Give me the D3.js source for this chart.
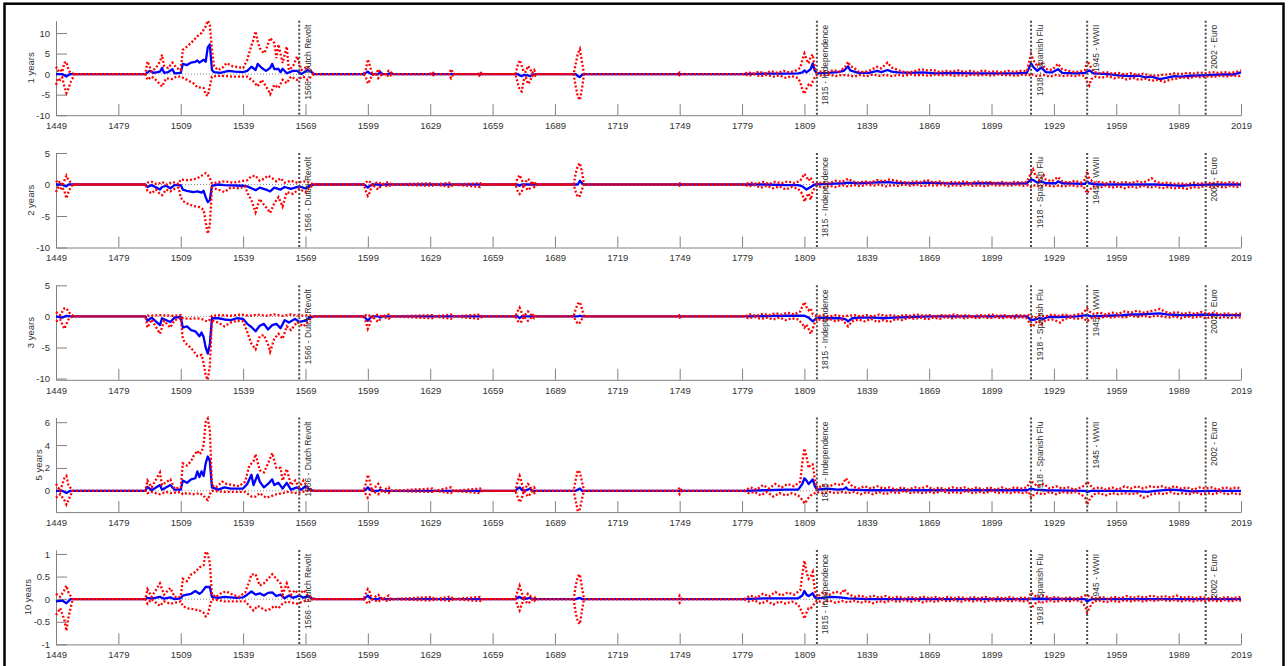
<!DOCTYPE html>
<html>
<head>
<meta charset="utf-8">
<script src="https://cdn.jsdelivr.net/npm/d3@7"></script>
<style>
body { margin: 0; background: #fff; }
svg { display: block; font-family: "Liberation Sans", Arial, Helvetica, sans-serif; }
.axis path, .axis line { stroke: #808080; stroke-width: 1; }
.axis text { fill: #333; font-size: 9.5px; }
</style>
</head>
<body>
<script>
// ---- data ----
var xTicks = [1449, 1479, 1509, 1539, 1569, 1599, 1629, 1659, 1689, 1719, 1749, 1779, 1809, 1839, 1869, 1899, 1929, 1959, 1989, 2019];
var panelLabels = ["1 years", "2 years", "3 years", "5 years", "10 years"];
var yTicks = [[-10, -5, 0, 5, 10], [-10, -5, 0, 5], [-10, -5, 0, 5], [0, 2, 4, 6], [-1, -0.5, 0, 0.5, 1]];
var yLimits = [[-10, 13], [-10, 5], [-10.2, 5], [-1.86, 6.4], [-1, 1.09]];
var eventYears = [1566, 1815, 1918, 1945, 2002];
var eventNames = ["1566 - Dutch Revolt", "1815 - Independence", "1918 - Spanish Flu", "1945 - WWII", "2002 - Euro"];

// 1 year horizon: median (blue) and bands (red dotted)
var mid1 = [[1449,0],[1452,0],[1453,-0.3],[1454,-0.6],[1455,-0.2],[1456,0],[1492,0],[1494,0.8],[1496,0.3],[1499,0.6],[1500,1.5],[1501,0.3],[1503,0.5],[1505,1.2],[1506,0.2],[1509,0.3],[1510,2.5],[1512,2.2],[1514,2.8],[1516,3.0],[1517,3.3],[1518,2.8],[1520,3.5],[1521,3.0],[1522,6.5],[1523,7.2],[1524,1.0],[1525,0.5],[1528,0.3],[1532,0.8],[1535,0.6],[1539,0.5],[1541,0.8],[1543,1.8],[1545,1.0],[1546,2.5],[1548,1.5],[1550,0.8],[1552,1.5],[1553,2.5],[1554,1.2],[1556,1.3],[1557,0.5],[1558,1.3],[1560,0.2],[1563,0.8],[1565,0.8],[1567,0],[1570,1.0],[1572,0.5],[1573,0],
  [1597,0],[1598,0.3],[1599,0.6],[1600,0.2],[1601,0],[1604,0],[1605,0.5],[1606,0],[1609,0],[1610,0.3],[1611,0],[1671,0],[1672,-0.3],[1673,-0.5],[1674,-0.2],[1676,-0.3],[1677,-0.5],[1678,-0.2],[1680,0],[1699,0],[1700,-0.5],[1701,-0.7],[1702,-0.2],[1703,0],
  [1780,0],[1790,0.1],[1800,0.1],[1806,0.2],[1808,0.4],[1809,0.9],[1810,0.4],[1812,1.2],[1813,2.6],[1814,0.8],[1815,0.2],[1820,0.3],[1825,0.5],[1828,0.8],[1830,1.9],[1831,0.9],[1833,0.6],[1835,0.3],[1840,0.3],[1844,0.8],[1846,0.5],[1849,1.0],[1851,0.6],[1854,0.4],[1860,0.3],[1866,0.4],[1872,0.2],[1880,0.3],[1890,0.2],[1900,0.2],[1910,0.2],[1916,0.3],[1918,2.6],[1919,1.8],[1921,0.8],[1923,1.6],[1925,0.5],[1928,0.4],[1931,1.2],[1933,0.3],[1940,0.2],[1944,0.3],[1946,0.9],[1948,0.2],[1955,0],[1960,-0.3],[1965,-0.5],[1970,-0.4],[1973,-0.8],[1976,-0.6],[1980,-1.2],[1983,-0.9],[1987,-0.5],[1990,-0.6],[1995,-0.4],[2000,-0.3],[2005,-0.2],[2010,-0.1],[2015,-0.1],[2019,0.4]];
var hi1 = [[1449,1.8],[1450,0.8],[1451,1.2],[1452,0.5],[1453,2.7],[1454,3.0],[1455,1.0],[1456,0.3],[1458,0],[1492,0],[1493,3.1],[1495,0.6],[1497,1.5],[1499,3.0],[1500,4.7],[1501,1.9],[1503,1.5],[1505,2.8],[1507,1.5],[1509,1.0],[1510,5.9],[1512,6.7],[1514,7.6],[1517,9.2],[1519,10.0],[1521,11.6],[1522,13.0],[1523,12.0],[1524,6.0],[1525,1.9],[1527,1.0],[1529,1.5],[1531,2.7],[1534,1.9],[1539,1.5],[1541,3.5],[1543,7.0],[1544,8.4],[1545,10.4],[1546,8.0],[1547,6.3],[1549,5.1],[1550,5.9],[1552,8.8],[1554,7.6],[1555,3.9],[1556,7.2],[1558,2.7],[1560,6.7],[1561,1.0],[1563,1.9],[1565,4.3],[1567,1.0],[1570,1.9],[1572,0.6],[1573,0],
  [1597,0],[1598,1.0],[1599,3.6],[1600,2.0],[1601,0.3],[1603,0],[1604,1.2],[1605,0.4],[1606,0],[1608,0],[1609,0.8],[1610,0.5],[1611,0],[1629,0],[1630,0.6],[1631,0],[1638,0],[1639,1.2],[1640,0.2],[1641,0],[1652,0],[1653,0.6],[1654,0],[1670,0],[1671,2.0],[1672,3.4],[1673,2.0],[1674,0.5],[1675,0.6],[1676,2.0],[1677,1.4],[1678,0.2],[1679,1.0],[1680,0],[1698,0],[1699,2.5],[1700,5.0],[1701,6.1],[1702,3.0],[1703,0],[1748,0],[1749,0.4],[1750,0],
  [1780,0],[1782,0.5],[1784,0.1],[1787,0.6],[1790,0.2],[1793,0.7],[1796,0.3],[1799,0.8],[1802,0.4],[1805,0.9],[1807,1.5],[1808,3.5],[1809,5.0],[1810,3.6],[1811,2.6],[1812,4.2],[1813,4.8],[1814,1.5],[1815,0.3],[1818,0.8],[1820,0.4],[1823,1.0],[1826,0.6],[1829,2.0],[1830,3.0],[1831,2.0],[1833,1.5],[1835,0.6],[1838,0.5],[1841,1.0],[1844,1.8],[1846,1.4],[1849,2.8],[1851,1.6],[1853,1.2],[1856,0.6],[1859,0.4],[1862,0.7],[1865,1.2],[1868,0.9],[1871,1.0],[1874,0.5],[1877,0.8],[1880,0.6],[1883,0.9],[1886,0.5],[1889,0.8],[1892,0.4],[1895,0.9],[1898,0.5],[1901,0.7],[1904,0.4],[1907,0.8],[1910,0.5],[1913,0.8],[1916,0.7],[1918,4.9],[1919,3.5],[1921,2.0],[1923,2.8],[1925,1.2],[1928,1.0],[1931,2.5],[1933,1.2],[1936,0.8],[1939,0.5],[1942,0.7],[1944,1.0],[1945,3.2],[1946,2.4],[1948,0.6],[1951,0.2],[1954,0.5],[1957,0.1],[1960,0.3],[1963,-0.1],[1966,0.2],[1969,-0.2],[1972,0.1],[1975,-0.3],[1978,-0.4],[1981,-0.2],[1984,-0.1],[1987,0.2],[1990,0],[1993,0.3],[1996,0.1],[1999,0.4],[2002,0.2],[2005,0.5],[2008,0.3],[2011,0.5],[2014,0.3],[2017,0.6],[2019,0.9]];
var lo1 = [[1449,-2.6],[1450,-1.0],[1451,-1.4],[1452,-0.8],[1453,-3.0],[1454,-4.6],[1455,-3.5],[1456,-2.0],[1458,0],[1492,0],[1493,-1.4],[1495,-0.6],[1497,-1.4],[1500,-3.0],[1502,-1.0],[1505,-1.2],[1507,-0.6],[1509,-0.6],[1512,-1.4],[1515,-2.2],[1517,-3.2],[1520,-3.4],[1521,-5.0],[1522,-5.3],[1523,-3.0],[1524,-0.6],[1528,-0.4],[1534,-0.6],[1541,-0.6],[1544,-1.8],[1546,-3.0],[1548,-1.4],[1551,-3.8],[1552,-4.9],[1554,-2.6],[1556,-3.4],[1558,-1.4],[1560,-2.2],[1562,-0.6],[1565,-1.4],[1568,-0.6],[1570,-1.4],[1573,0],
  [1597,0],[1598,-0.6],[1599,-2.3],[1600,-1.5],[1601,-0.2],[1603,0],[1604,-1.0],[1605,-0.4],[1606,0],[1608,0],[1609,-0.7],[1610,-0.3],[1611,0],[1629,0],[1630,-0.5],[1631,0],[1638,0],[1639,-1.0],[1640,-0.2],[1641,0],[1652,0],[1653,-0.6],[1654,0],[1670,0],[1671,-2.0],[1672,-3.8],[1673,-4.2],[1674,-1.5],[1675,-0.8],[1676,-2.4],[1677,-1.8],[1678,-0.4],[1679,-0.8],[1680,0],[1698,0],[1699,-3.0],[1700,-5.5],[1701,-6.3],[1702,-3.5],[1703,0],[1748,0],[1749,-0.3],[1750,0],
  [1780,0],[1782,-0.4],[1785,-0.1],[1788,-0.5],[1791,-0.2],[1794,-0.6],[1797,-0.3],[1800,-0.9],[1803,-0.5],[1806,-1.0],[1807,-2.0],[1808,-3.8],[1809,-4.8],[1810,-3.5],[1811,-2.6],[1812,-3.0],[1813,-1.8],[1814,-0.8],[1815,-0.2],[1818,-0.4],[1821,-0.1],[1824,-0.5],[1827,-0.2],[1830,-0.3],[1833,-0.6],[1836,-0.2],[1839,-0.5],[1842,-0.1],[1845,-0.4],[1848,-0.2],[1851,-0.5],[1854,-0.2],[1857,-0.4],[1860,-0.1],[1863,-0.3],[1866,-0.2],[1869,-0.4],[1872,-0.1],[1875,-0.3],[1878,-0.1],[1881,-0.4],[1884,-0.2],[1887,-0.4],[1890,-0.1],[1893,-0.3],[1896,-0.2],[1899,-0.4],[1902,-0.1],[1905,-0.3],[1908,-0.2],[1911,-0.4],[1914,-0.1],[1917,-0.3],[1918,0.2],[1919,-0.2],[1921,-0.5],[1924,-0.2],[1927,-0.6],[1930,-0.2],[1933,-0.5],[1936,-0.3],[1939,-0.5],[1942,-0.2],[1944,-0.5],[1945,-2.0],[1946,-2.8],[1947,-1.2],[1949,-0.6],[1952,-0.9],[1955,-0.5],[1958,-1.0],[1961,-0.7],[1964,-1.3],[1967,-0.9],[1970,-1.4],[1973,-1.1],[1976,-1.6],[1979,-1.4],[1982,-1.9],[1985,-1.3],[1988,-1.1],[1991,-0.8],[1994,-1.0],[1997,-0.6],[2000,-0.8],[2003,-0.5],[2006,-0.7],[2009,-0.4],[2012,-0.6],[2015,-0.3],[2018,-0.5],[2019,-0.2]];

// 2 year horizon
var mid2 = [[1449,0],[1452,0],[1453,-0.2],[1454,-0.3],[1455,0],[1492,0],[1493,-0.4],[1495,-0.1],[1499,-0.8],[1500,-0.4],[1502,-0.2],[1504,-0.6],[1506,-0.1],[1509,-0.1],[1510,-0.8],[1512,-1.0],[1515,-1.2],[1517,-1.1],[1519,-1.3],[1520,-1.0],[1521,-2.0],[1522,-2.8],[1523,-2.5],[1524,-0.2],[1527,0],[1530,-0.1],[1539,-0.2],[1541,-0.3],[1543,-0.6],[1545,-0.9],[1547,-0.5],[1550,-0.8],[1552,-1.1],[1554,-0.5],[1557,-0.8],[1559,-0.4],[1562,-0.7],[1566,-0.3],[1569,-0.6],[1571,-0.2],[1573,0],
  [1597,0],[1598,-0.2],[1599,-0.5],[1600,-0.2],[1601,0],[1604,0],[1605,-0.2],[1606,0],[1671,0],[1672,-0.2],[1673,0],[1700,0],[1701,0.6],[1702,0.2],[1703,0],
  [1780,0],[1790,0],[1800,-0.1],[1806,-0.1],[1808,-0.3],[1810,-0.8],[1812,-0.4],[1814,0],[1820,0.1],[1828,0.2],[1830,0.3],[1835,0.2],[1842,0.3],[1848,0.4],[1852,0.3],[1860,0.2],[1868,0.3],[1880,0.15],[1895,0.2],[1910,0.15],[1916,0.2],[1918,0.8],[1919,0.7],[1921,0.3],[1923,0.5],[1925,0.2],[1930,0.2],[1931,0.5],[1933,0.2],[1944,0.1],[1945,0.5],[1946,0.2],[1950,0],[1960,0],[1970,0],[1978,0],[1985,-0.1],[1990,-0.2],[1995,-0.1],[2005,0],[2019,0]];
var hi2 = [[1449,0.6],[1450,0.2],[1451,0.5],[1452,-0.2],[1453,0.6],[1454,1.4],[1455,0.7],[1457,0],[1492,0],[1493,0.3],[1495,0.4],[1497,0.1],[1499,0.2],[1500,0.4],[1502,0],[1505,0.4],[1508,0.1],[1509,0.8],[1512,0.7],[1515,0.8],[1517,1.0],[1519,1.4],[1521,1.8],[1522,1.5],[1523,1.0],[1524,0.2],[1526,0.3],[1530,0.5],[1534,0.3],[1538,0.5],[1541,0.7],[1543,1.3],[1545,1.4],[1547,0.6],[1549,0.9],[1551,1.4],[1553,1.0],[1555,0.5],[1557,1.0],[1559,0.3],[1562,0.6],[1565,0.3],[1568,0.5],[1570,0.4],[1573,0],
  [1597,0],[1598,0.3],[1599,0.6],[1600,0.4],[1601,0],[1604,0.4],[1605,0.2],[1606,0],[1609,0.4],[1610,0],[1630,0.2],[1631,0],[1639,0.3],[1640,0],[1653,0.2],[1654,0],[1670,0],[1671,1.0],[1672,1.5],[1673,0.8],[1674,0],[1676,0.9],[1677,0.6],[1678,0],[1679,0.5],[1680,0],[1698,0],[1699,1.8],[1700,3.0],[1701,3.4],[1702,2.0],[1703,0],[1748,0],[1749,0.2],[1750,0],
  [1780,0],[1783,0.3],[1786,0.1],[1789,0.4],[1792,0.1],[1795,0.4],[1798,0.2],[1801,0.5],[1804,0.2],[1807,0.6],[1809,1.7],[1810,1.2],[1811,0.6],[1812,1.1],[1813,0.4],[1815,0.1],[1818,0.4],[1821,0.2],[1824,0.6],[1827,0.4],[1830,0.9],[1832,0.5],[1835,0.3],[1838,0.5],[1841,0.3],[1844,0.7],[1847,0.5],[1850,0.8],[1853,0.6],[1856,0.4],[1859,0.3],[1862,0.5],[1865,0.4],[1868,0.7],[1871,0.3],[1874,0.5],[1877,0.2],[1880,0.4],[1883,0.3],[1886,0.5],[1889,0.2],[1892,0.5],[1895,0.3],[1898,0.4],[1901,0.2],[1904,0.4],[1907,0.2],[1910,0.4],[1913,0.3],[1916,0.4],[1918,1.8],[1919,2.4],[1920,1.5],[1922,0.6],[1924,1.5],[1925,0.8],[1928,0.5],[1931,1.2],[1933,0.5],[1936,0.3],[1939,0.6],[1942,0.3],[1944,0.8],[1945,2.1],[1946,1.0],[1948,0.3],[1951,0.4],[1954,0.2],[1957,0.5],[1960,0.2],[1963,0.4],[1966,0.2],[1969,0.5],[1972,0.3],[1975,0.8],[1976,1.0],[1978,0.4],[1981,0.2],[1984,0.3],[1987,0.1],[1990,0.2],[1993,0],[1996,0.3],[1999,0.1],[2002,0.3],[2005,0.2],[2008,0.4],[2011,0.2],[2014,0.4],[2017,0.2],[2019,0.3]];
var lo2 = [[1449,-1.2],[1450,-0.5],[1451,-0.8],[1452,-0.4],[1453,-1.0],[1454,-2.2],[1455,-1.2],[1456,-0.5],[1457,0],[1492,0],[1493,-1.0],[1495,-1.4],[1497,-0.8],[1499,-1.5],[1500,-1.7],[1502,-0.8],[1504,-1.1],[1506,-0.7],[1508,-0.5],[1509,-2.0],[1510,-2.6],[1512,-3.0],[1515,-3.4],[1518,-3.6],[1520,-4.0],[1521,-6.0],[1522,-7.8],[1523,-6.5],[1524,-0.5],[1527,-0.8],[1530,-1.2],[1533,-0.5],[1537,-0.6],[1540,-0.3],[1541,-1.3],[1543,-2.5],[1545,-4.4],[1547,-2.3],[1549,-3.2],[1551,-4.0],[1552,-4.5],[1554,-3.0],[1556,-2.0],[1558,-3.5],[1560,-1.2],[1563,-1.5],[1566,-0.7],[1569,-1.2],[1571,-0.5],[1573,0],
  [1597,0],[1598,-1.0],[1599,-1.8],[1600,-1.2],[1601,0],[1604,-0.8],[1605,-0.3],[1606,0],[1609,-0.4],[1610,0],[1630,-0.2],[1631,0],[1639,-0.4],[1640,0],[1653,-0.4],[1654,0],[1670,0],[1671,-1.0],[1672,-1.5],[1673,-1.2],[1674,0],[1676,-0.9],[1677,-0.6],[1678,0],[1679,-0.4],[1680,0],[1698,0],[1699,-1.2],[1700,-2.0],[1701,-1.8],[1702,-0.8],[1703,0],[1748,0],[1749,-0.2],[1750,0],
  [1780,0],[1782,-0.3],[1785,-0.1],[1788,-0.5],[1791,-0.2],[1794,-0.6],[1797,-0.3],[1800,-0.8],[1803,-0.4],[1806,-0.7],[1808,-1.5],[1809,-2.7],[1810,-2.0],[1811,-1.4],[1812,-2.4],[1813,-1.0],[1815,-0.2],[1818,-0.5],[1821,-0.2],[1824,-0.4],[1827,-0.1],[1830,-0.3],[1833,-0.1],[1836,-0.3],[1839,0],[1842,-0.2],[1845,0],[1848,-0.3],[1851,-0.1],[1854,-0.2],[1857,0],[1860,-0.2],[1863,0],[1866,-0.3],[1869,-0.1],[1872,-0.2],[1875,0],[1878,-0.3],[1881,-0.1],[1884,-0.2],[1887,0],[1890,-0.2],[1893,-0.1],[1896,-0.3],[1899,0],[1902,-0.2],[1905,-0.1],[1908,-0.2],[1911,0],[1914,-0.2],[1917,-0.1],[1918,-0.4],[1920,-0.1],[1922,-0.3],[1925,-0.1],[1928,-0.3],[1931,-0.2],[1934,-0.3],[1937,-0.1],[1940,-0.3],[1943,-0.2],[1945,-1.4],[1946,-0.9],[1948,-0.3],[1951,-0.5],[1954,-0.2],[1957,-0.5],[1960,-0.3],[1963,-0.6],[1966,-0.3],[1969,-0.5],[1972,-0.2],[1975,-0.5],[1978,-0.3],[1981,-0.6],[1984,-0.4],[1987,-0.6],[1990,-0.5],[1993,-0.7],[1996,-0.4],[1999,-0.5],[2002,-0.2],[2005,-0.5],[2008,-0.3],[2011,-0.5],[2014,-0.2],[2017,-0.4],[2019,-0.2]];

// 3 year horizon
var mid3 = [[1449,0],[1452,-0.2],[1454,0.1],[1456,0],[1492,0],[1493,-0.7],[1495,-0.2],[1499,-1.4],[1500,-0.3],[1504,-0.9],[1506,-0.2],[1509,-0.1],[1510,-1.8],[1512,-1.6],[1514,-2.2],[1516,-2.4],[1518,-3.2],[1519,-2.6],[1520,-3.3],[1521,-5.0],[1522,-6.0],[1523,-4.5],[1524,-0.3],[1527,-0.3],[1530,-0.5],[1533,-0.6],[1536,-0.3],[1539,-0.4],[1541,-1.2],[1543,-1.7],[1545,-2.4],[1547,-1.5],[1549,-1.2],[1551,-2.1],[1553,-1.4],[1555,-1.2],[1557,-1.9],[1559,-0.6],[1561,-1.0],[1564,-0.4],[1566,-0.9],[1569,-0.7],[1571,-0.2],[1573,0],
  [1597,0],[1598,-0.3],[1599,-0.7],[1600,-0.3],[1601,0],[1604,0],[1605,-0.2],[1606,0],[1671,0],[1672,-0.3],[1673,0],[1700,0],[1701,0.1],[1702,0],
  [1780,0],[1790,0.05],[1800,0.1],[1806,0.1],[1809,0.1],[1811,-0.2],[1813,-0.8],[1814,-0.5],[1815,-0.2],[1820,-0.3],[1826,-0.3],[1829,-0.5],[1830,-0.8],[1832,-0.3],[1836,-0.2],[1842,-0.2],[1847,-0.3],[1852,-0.2],[1860,-0.1],[1870,0],[1890,0],[1910,0],[1916,0],[1918,-0.6],[1920,-0.5],[1922,-0.3],[1924,-0.4],[1926,-0.1],[1932,-0.1],[1940,0],[1945,0.2],[1947,0],[1955,0.1],[1962,0.2],[1966,0.3],[1970,0.3],[1975,0.4],[1980,0.5],[1984,0.3],[1990,0.2],[1995,0.2],[2002,0.3],[2010,0.2],[2019,0.2]];
var hi3 = [[1449,0.7],[1451,0.2],[1453,1.3],[1454,1.3],[1456,0.3],[1458,0],[1492,0],[1493,0.1],[1499,0.2],[1505,0.1],[1509,0.2],[1510,-0.3],[1513,-0.4],[1517,-0.3],[1520,-0.5],[1521,-0.7],[1522,-0.8],[1523,-0.5],[1524,0.1],[1528,0.2],[1533,0.1],[1538,0.3],[1542,0.1],[1546,0.3],[1550,0.1],[1554,0.3],[1558,0.1],[1562,0.3],[1566,0.1],[1570,0.2],[1573,0],
  [1597,0],[1598,0.2],[1599,0.3],[1600,0.1],[1601,0],[1604,0.3],[1605,0.1],[1606,0],[1609,0.3],[1610,0],[1630,0.2],[1631,0],[1639,0.3],[1640,0],[1653,0.3],[1654,0],[1670,0],[1671,0.8],[1672,1.4],[1673,0.6],[1674,0],[1676,0.8],[1677,0.5],[1678,0],[1679,0.4],[1680,0],[1698,0],[1699,1.2],[1700,2.0],[1701,2.3],[1702,1.2],[1703,0],[1748,0],[1749,0.2],[1750,0],
  [1780,0],[1783,0.3],[1786,0.1],[1789,0.4],[1792,0.2],[1795,0.5],[1798,0.3],[1801,0.6],[1804,0.3],[1807,0.8],[1808,1.6],[1809,2.3],[1810,1.5],[1811,1.0],[1812,1.3],[1813,0.4],[1815,0],[1818,0.2],[1821,0],[1824,0.2],[1827,0],[1830,0.1],[1833,0.2],[1836,0],[1839,0.2],[1842,0],[1845,0.3],[1848,0.1],[1851,0.2],[1854,0],[1857,0.2],[1860,0.1],[1863,0.3],[1866,0.1],[1869,0.2],[1872,0],[1875,0.2],[1878,0.1],[1881,0.3],[1884,0.1],[1887,0.2],[1890,0],[1893,0.2],[1896,0.1],[1899,0.3],[1902,0.1],[1905,0.2],[1908,0],[1911,0.2],[1914,0.1],[1917,0.2],[1918,0],[1920,-0.2],[1922,0.2],[1925,0],[1928,0.3],[1931,0.1],[1934,0.3],[1937,0.1],[1940,0.3],[1943,0.5],[1945,1.3],[1946,0.8],[1948,0.4],[1951,0.6],[1954,0.3],[1957,0.6],[1960,0.4],[1963,0.8],[1966,0.6],[1969,0.9],[1972,0.6],[1975,0.8],[1978,1.0],[1980,1.2],[1982,0.8],[1985,0.5],[1988,0.7],[1991,0.4],[1994,0.6],[1997,0.4],[2000,0.7],[2003,0.4],[2006,0.6],[2009,0.3],[2012,0.5],[2015,0.3],[2018,0.5],[2019,0.4]];
var lo3 = [[1449,-0.8],[1451,-0.5],[1453,-2.0],[1455,-0.5],[1457,0],[1492,0],[1493,-1.8],[1495,-0.5],[1499,-2.8],[1501,-0.7],[1504,-1.8],[1506,-0.6],[1509,-0.3],[1510,-3.6],[1511,-4.2],[1513,-4.8],[1515,-5.5],[1517,-6.4],[1519,-6.2],[1520,-7.5],[1521,-9.5],[1522,-10.2],[1523,-8.0],[1524,-0.6],[1527,-1.0],[1530,-1.6],[1533,-1.0],[1536,-0.7],[1539,-0.8],[1541,-2.5],[1542,-3.5],[1543,-4.4],[1545,-5.3],[1547,-3.2],[1549,-3.0],[1551,-4.5],[1552,-5.7],[1554,-3.6],[1556,-2.8],[1558,-3.6],[1560,-1.6],[1562,-2.2],[1565,-0.9],[1568,-1.6],[1571,-0.5],[1573,0],
  [1597,0],[1598,-0.8],[1599,-2.0],[1600,-1.2],[1601,0],[1604,-0.9],[1605,-0.4],[1606,0],[1609,-0.4],[1610,0],[1630,-0.3],[1631,0],[1639,-0.4],[1640,0],[1653,-0.4],[1654,0],[1670,0],[1671,-0.7],[1672,-1.0],[1673,-0.8],[1674,0],[1676,-0.7],[1677,-0.5],[1678,0],[1679,-0.3],[1680,0],[1698,0],[1699,-0.7],[1700,-1.2],[1701,-1.0],[1702,-0.4],[1703,0],[1748,0],[1749,-0.2],[1750,0],
  [1780,0],[1782,-0.3],[1785,-0.1],[1788,-0.4],[1791,-0.2],[1794,-0.5],[1797,-0.2],[1800,-0.6],[1803,-0.3],[1806,-0.5],[1808,-1.2],[1809,-1.8],[1810,-1.3],[1811,-2.0],[1812,-2.8],[1813,-2.0],[1814,-1.0],[1815,-0.4],[1818,-0.7],[1821,-0.4],[1824,-0.8],[1827,-0.5],[1829,-1.2],[1830,-1.6],[1832,-0.8],[1835,-0.5],[1838,-0.8],[1841,-0.4],[1844,-0.9],[1847,-0.6],[1850,-0.9],[1853,-0.4],[1856,-0.6],[1859,-0.2],[1862,-0.4],[1865,-0.2],[1868,-0.5],[1871,-0.2],[1874,-0.4],[1877,-0.1],[1880,-0.3],[1883,-0.1],[1886,-0.3],[1889,-0.1],[1892,-0.3],[1895,-0.1],[1898,-0.3],[1901,-0.1],[1904,-0.3],[1907,-0.1],[1910,-0.3],[1913,-0.1],[1916,-0.3],[1918,-1.4],[1919,-1.6],[1920,-1.0],[1922,-0.8],[1923,-1.3],[1925,-0.6],[1928,-0.5],[1931,-0.8],[1932,-1.0],[1934,-0.4],[1937,-0.2],[1940,-0.4],[1943,-0.2],[1945,-0.8],[1946,-0.5],[1948,-0.1],[1951,-0.3],[1954,0],[1957,-0.2],[1960,0],[1963,-0.2],[1966,0.1],[1969,-0.1],[1972,0.1],[1975,-0.1],[1978,0.1],[1981,0],[1984,-0.2],[1987,0],[1990,-0.3],[1993,0],[1996,-0.2],[1999,0],[2002,-0.3],[2005,-0.1],[2008,-0.3],[2011,-0.1],[2014,-0.3],[2017,-0.1],[2019,-0.2]];

// 5 year horizon
var mid4 = [[1449,0],[1452,0],[1454,-0.2],[1456,0],[1492,0],[1493,0.35],[1495,0.05],[1499,0.5],[1500,0.1],[1504,0.5],[1506,0.1],[1509,0.1],[1510,0.9],[1512,0.7],[1514,1.0],[1516,1.1],[1517,1.7],[1518,1.2],[1519,1.7],[1520,1.3],[1521,2.4],[1522,3.0],[1523,2.6],[1524,0.3],[1527,0.1],[1530,0.3],[1533,0.2],[1536,0.2],[1539,0.2],[1541,0.6],[1543,1.4],[1544,0.5],[1546,1.4],[1547,0.8],[1549,0.3],[1551,0.6],[1553,1.0],[1554,0.5],[1556,0.7],[1558,0.2],[1560,0.7],[1562,0.1],[1565,0.3],[1567,0.1],[1569,0.4],[1571,0.1],[1573,0],
  [1597,0],[1598,0.1],[1599,0.3],[1600,0.1],[1601,0],[1604,0],[1605,0.1],[1606,0],[1670,0],[1671,0.2],[1672,0.3],[1673,0.1],[1674,0],[1676,0.1],[1677,0.2],[1678,0],[1699,0],[1700,0.1],[1701,0.2],[1702,0],
  [1780,0],[1790,0.05],[1800,0.1],[1806,0.1],[1808,0.6],[1809,1.1],[1810,0.9],[1811,0.6],[1812,0.8],[1813,1.0],[1814,0.4],[1815,0.1],[1820,0.2],[1825,0.1],[1828,0.15],[1829,0.3],[1830,0.1],[1840,0.05],[1900,0.05],[1916,0.05],[1918,0.2],[1920,0.1],[1925,0.05],[1944,0],[1945,-0.1],[1947,0],[1960,0],[1970,-0.05],[1974,-0.1],[1978,0],[1985,0.1],[1990,0.05],[1995,-0.05],[2005,0],[2019,0]];
var hi4 = [[1449,0.6],[1451,0],[1453,1.1],[1454,1.3],[1455,0.5],[1457,0],[1492,0],[1493,0.9],[1495,0.3],[1499,1.6],[1500,0.5],[1504,1.0],[1506,0.2],[1509,0.3],[1510,2.4],[1512,2.2],[1514,2.6],[1515,3.0],[1517,3.5],[1518,3.2],[1519,3.4],[1520,4.0],[1521,6.0],[1522,6.3],[1523,5.3],[1524,0.5],[1526,0.3],[1529,0.8],[1531,0.6],[1534,0.5],[1537,0.4],[1540,0.8],[1542,2.2],[1544,2.6],[1545,3.2],[1547,1.8],[1549,1.6],[1551,2.4],[1553,3.3],[1555,2.0],[1557,2.0],[1558,0.9],[1560,1.9],[1562,0.5],[1564,0.9],[1566,0.3],[1568,0.9],[1570,0.3],[1573,0],
  [1597,0],[1598,0.6],[1599,1.4],[1600,0.8],[1601,0],[1604,0.6],[1605,0.3],[1606,0],[1609,0.3],[1610,0],[1630,0.2],[1631,0],[1639,0.3],[1640,0],[1653,0.2],[1654,0],[1670,0],[1671,0.8],[1672,1.3],[1673,0.7],[1674,0],[1676,0.6],[1677,0.4],[1678,0],[1679,0.3],[1680,0],[1698,0],[1699,1.0],[1700,1.8],[1701,1.6],[1702,0.8],[1703,0],[1748,0],[1749,0.3],[1750,0],
  [1780,0],[1783,0.3],[1786,0.1],[1789,0.5],[1792,0.2],[1795,0.6],[1798,0.3],[1801,0.6],[1804,0.4],[1807,0.8],[1808,2.5],[1809,3.7],[1810,3.0],[1811,2.0],[1812,2.3],[1813,2.3],[1814,1.0],[1815,0.2],[1818,0.5],[1821,0.4],[1824,0.6],[1827,0.5],[1829,1.1],[1830,0.8],[1832,0.4],[1835,0.2],[1838,0.4],[1841,0.2],[1844,0.4],[1847,0.2],[1850,0.3],[1853,0.1],[1856,0.3],[1859,0.1],[1862,0.3],[1865,0.2],[1868,0.4],[1871,0.1],[1874,0.3],[1877,0.1],[1880,0.3],[1883,0.2],[1886,0.3],[1889,0.1],[1892,0.3],[1895,0.1],[1898,0.3],[1901,0.1],[1904,0.3],[1907,0.1],[1910,0.3],[1913,0.2],[1916,0.3],[1918,0.9],[1919,0.7],[1921,0.4],[1924,0.6],[1927,0.2],[1930,0.4],[1933,0.2],[1936,0.3],[1939,0.1],[1942,0.3],[1944,0.5],[1945,0.8],[1946,0.6],[1948,0.2],[1951,0.3],[1954,0.1],[1957,0.3],[1960,0.1],[1963,0.4],[1966,0.2],[1969,0.4],[1972,0.2],[1975,0.4],[1978,0.3],[1981,0.4],[1984,0.2],[1987,0.4],[1990,0.2],[1993,0.3],[1996,0.1],[1999,0.3],[2002,0.2],[2005,0.3],[2008,0.1],[2011,0.3],[2014,0.2],[2017,0.3],[2019,0.2]];
var lo4 = [[1449,-0.6],[1451,-0.3],[1453,-0.8],[1454,-1.2],[1456,-0.4],[1457,0],[1492,0],[1493,-0.2],[1495,-0.1],[1499,-0.3],[1502,-0.1],[1504,-0.2],[1509,-0.1],[1510,-0.3],[1512,-0.2],[1515,-0.3],[1518,-0.2],[1520,-0.4],[1521,-0.7],[1522,-0.8],[1523,-0.3],[1524,0],[1530,-0.1],[1540,-0.1],[1543,-0.5],[1545,-0.5],[1547,-0.2],[1550,-0.6],[1552,-0.5],[1555,-0.3],[1558,-0.2],[1560,-0.1],[1565,-0.2],[1570,0],[1573,0],
  [1597,0],[1598,-0.3],[1599,-0.6],[1600,-0.3],[1601,0],[1604,-0.3],[1605,-0.1],[1606,0],[1609,-0.2],[1610,0],[1630,-0.1],[1631,0],[1639,-0.2],[1640,0],[1653,-0.2],[1654,0],[1670,0],[1671,-0.5],[1672,-1.0],[1673,-0.7],[1674,0],[1676,-0.5],[1677,-0.3],[1678,0],[1679,-0.2],[1680,0],[1698,0],[1699,-0.9],[1700,-1.8],[1701,-1.6],[1702,-0.7],[1703,0],[1748,0],[1749,-0.3],[1750,0],
  [1780,0],[1782,-0.2],[1785,-0.1],[1788,-0.4],[1791,-0.1],[1794,-0.5],[1797,-0.2],[1800,-0.4],[1803,-0.2],[1806,-0.4],[1808,-0.8],[1809,-1.1],[1810,-0.9],[1811,-0.6],[1812,-0.4],[1813,-0.3],[1815,-0.1],[1818,-0.2],[1821,-0.1],[1824,-0.2],[1827,-0.1],[1830,-0.2],[1833,-0.1],[1836,-0.3],[1839,-0.1],[1842,-0.3],[1845,-0.1],[1848,-0.3],[1851,-0.1],[1854,-0.2],[1857,0],[1860,-0.2],[1863,-0.1],[1866,-0.2],[1869,-0.1],[1872,-0.2],[1875,0],[1878,-0.2],[1881,-0.1],[1884,-0.2],[1887,0],[1890,-0.2],[1893,-0.1],[1896,-0.2],[1899,0],[1902,-0.2],[1905,-0.1],[1908,-0.2],[1911,-0.1],[1914,-0.2],[1917,-0.1],[1918,-0.6],[1919,-0.4],[1921,-0.2],[1924,-0.3],[1927,-0.1],[1930,-0.3],[1933,-0.1],[1936,-0.2],[1939,-0.1],[1942,-0.3],[1944,-0.6],[1945,-1.2],[1946,-0.8],[1948,-0.3],[1951,-0.2],[1954,-0.4],[1957,-0.2],[1960,-0.3],[1963,-0.2],[1966,-0.3],[1969,-0.2],[1972,-0.6],[1974,-0.5],[1976,-0.3],[1979,-0.2],[1982,-0.3],[1985,-0.1],[1988,-0.3],[1991,-0.2],[1994,-0.3],[1997,-0.1],[2000,-0.3],[2003,-0.2],[2006,-0.3],[2009,-0.1],[2012,-0.3],[2015,-0.2],[2018,-0.3],[2019,-0.2]];

// 10 year horizon
var mid5 = [[1449,-0.05],[1452,-0.03],[1454,-0.09],[1456,0],[1492,0],[1493,0.03],[1495,0.01],[1499,0.05],[1501,0.01],[1504,0.04],[1506,0],[1509,0.02],[1510,0.08],[1512,0.1],[1514,0.12],[1516,0.18],[1518,0.12],[1519,0.15],[1521,0.27],[1523,0.27],[1524,0.05],[1527,0.03],[1530,0.05],[1533,0.04],[1536,0.03],[1539,0.04],[1541,0.1],[1543,0.17],[1545,0.1],[1547,0.13],[1549,0.08],[1551,0.14],[1553,0.15],[1555,0.07],[1557,0.1],[1559,0.02],[1561,0.08],[1563,0.03],[1566,0.08],[1568,0.03],[1570,0.07],[1572,0.02],[1574,0],
  [1597,0],[1598,0.04],[1599,0.08],[1600,0.03],[1601,0],[1604,0],[1605,0.03],[1606,0],[1670,0],[1671,0.03],[1672,0.05],[1673,0.02],[1674,0],[1676,0.02],[1677,0.03],[1678,0],[1699,0],[1700,0.02],[1701,0.03],[1702,0],
  [1780,0],[1790,0.02],[1800,0.02],[1806,0.02],[1808,0.08],[1809,0.18],[1810,0.1],[1811,0.07],[1812,0.1],[1813,0.13],[1814,0.04],[1815,0.02],[1818,0.03],[1822,0.05],[1826,0.04],[1830,0.02],[1840,0],[1900,0],[1916,0],[1918,0.01],[1944,0],[1945,-0.05],[1947,0],[2019,0]];
var hi5 = [[1449,0.12],[1451,0.05],[1453,0.2],[1454,0.3],[1455,0.15],[1457,0],[1492,0],[1493,0.22],[1495,0.05],[1499,0.35],[1501,0.1],[1504,0.25],[1506,0.05],[1509,0.05],[1510,0.45],[1512,0.4],[1514,0.55],[1516,0.6],[1518,0.7],[1520,0.75],[1521,1.05],[1522,1.0],[1523,0.8],[1524,0.1],[1526,0.05],[1529,0.15],[1531,0.17],[1534,0.1],[1537,0.05],[1540,0.15],[1542,0.4],[1543,0.55],[1545,0.55],[1547,0.3],[1549,0.35],[1551,0.45],[1553,0.55],[1555,0.45],[1557,0.35],[1558,0.1],[1560,0.35],[1562,0.1],[1564,0.2],[1566,0.1],[1568,0.2],[1570,0.1],[1573,0],
  [1597,0],[1598,0.12],[1599,0.22],[1600,0.15],[1601,0],[1604,0.1],[1605,0.05],[1606,0],[1609,0.08],[1610,0],[1630,0.05],[1631,0],[1639,0.06],[1640,0],[1653,0.05],[1654,0],[1670,0],[1671,0.18],[1672,0.3],[1673,0.15],[1674,0],[1676,0.12],[1677,0.08],[1678,0],[1679,0.06],[1680,0],[1698,0],[1699,0.3],[1700,0.5],[1701,0.55],[1702,0.25],[1703,0],[1748,0],[1749,0.08],[1750,0],
  [1780,0],[1783,0.08],[1786,0.03],[1789,0.12],[1792,0.06],[1795,0.16],[1798,0.08],[1801,0.15],[1804,0.1],[1807,0.2],[1808,0.55],[1809,0.85],[1810,0.6],[1811,0.45],[1812,0.5],[1813,0.6],[1814,0.2],[1815,0.05],[1818,0.15],[1821,0.1],[1824,0.17],[1827,0.12],[1828,0.22],[1830,0.12],[1833,0.05],[1836,0.08],[1839,0.03],[1842,0.08],[1845,0.03],[1848,0.07],[1851,0.02],[1854,0.06],[1857,0.02],[1860,0.05],[1863,0.02],[1866,0.06],[1869,0.02],[1872,0.05],[1875,0.01],[1878,0.05],[1881,0.02],[1884,0.05],[1887,0.01],[1890,0.05],[1893,0.02],[1896,0.05],[1899,0.01],[1902,0.04],[1905,0.02],[1908,0.05],[1911,0.01],[1914,0.04],[1917,0.02],[1918,0.15],[1919,0.1],[1921,0.05],[1924,0.08],[1927,0.02],[1930,0.05],[1933,0.01],[1936,0.04],[1939,0.01],[1942,0.04],[1945,0.1],[1946,0.05],[1949,0.02],[1952,0.05],[1955,0.01],[1958,0.05],[1961,0.02],[1964,0.07],[1967,0.03],[1970,0.06],[1973,0.04],[1976,0.08],[1979,0.04],[1982,0.07],[1985,0.04],[1988,0.08],[1991,0.03],[1994,0.05],[1997,0.02],[2000,0.05],[2003,0.02],[2006,0.05],[2009,0.02],[2012,0.05],[2015,0.02],[2018,0.05],[2019,0.03]];
var lo5 = [[1449,-0.35],[1451,-0.2],[1453,-0.45],[1454,-0.7],[1455,-0.4],[1457,0],[1492,0],[1493,-0.1],[1495,0],[1499,-0.15],[1501,-0.05],[1504,-0.1],[1509,-0.05],[1510,-0.15],[1512,-0.2],[1515,-0.22],[1518,-0.25],[1520,-0.3],[1521,-0.38],[1522,-0.35],[1523,-0.15],[1524,0],[1530,-0.05],[1540,-0.05],[1542,-0.15],[1544,-0.25],[1546,-0.15],[1548,-0.2],[1550,-0.25],[1552,-0.22],[1554,-0.15],[1556,-0.2],[1558,-0.1],[1560,-0.05],[1565,-0.1],[1570,-0.02],[1573,0],
  [1597,0],[1598,-0.05],[1599,-0.1],[1600,-0.05],[1601,0],[1604,-0.06],[1605,-0.02],[1606,0],[1609,-0.05],[1610,0],[1630,-0.03],[1631,0],[1639,-0.04],[1640,0],[1653,-0.04],[1654,0],[1670,0],[1671,-0.15],[1672,-0.25],[1673,-0.12],[1674,0],[1676,-0.1],[1677,-0.06],[1678,0],[1679,-0.04],[1680,0],[1698,0],[1699,-0.3],[1700,-0.5],[1701,-0.55],[1702,-0.25],[1703,0],[1748,0],[1749,-0.08],[1750,0],
  [1780,0],[1782,-0.05],[1785,-0.02],[1788,-0.1],[1791,-0.04],[1794,-0.12],[1797,-0.05],[1800,-0.1],[1803,-0.05],[1806,-0.12],[1808,-0.3],[1809,-0.43],[1810,-0.3],[1811,-0.2],[1812,-0.2],[1813,-0.15],[1815,-0.03],[1818,-0.08],[1821,-0.03],[1824,-0.08],[1827,-0.04],[1830,-0.07],[1833,-0.03],[1836,-0.08],[1839,-0.04],[1842,-0.09],[1845,-0.04],[1848,-0.07],[1851,-0.02],[1854,-0.06],[1857,-0.02],[1860,-0.06],[1863,-0.02],[1866,-0.07],[1869,-0.03],[1872,-0.06],[1875,-0.02],[1878,-0.05],[1881,-0.02],[1884,-0.06],[1887,-0.02],[1890,-0.05],[1893,-0.02],[1896,-0.06],[1899,-0.02],[1902,-0.05],[1905,-0.02],[1908,-0.05],[1911,-0.02],[1914,-0.05],[1917,-0.03],[1918,-0.2],[1919,-0.15],[1921,-0.05],[1924,-0.07],[1927,-0.03],[1930,-0.06],[1933,-0.02],[1936,-0.05],[1939,-0.02],[1942,-0.05],[1944,-0.15],[1945,-0.3],[1946,-0.2],[1948,-0.05],[1951,-0.03],[1954,-0.07],[1957,-0.03],[1960,-0.06],[1963,-0.02],[1966,-0.05],[1969,-0.02],[1972,-0.05],[1975,-0.02],[1978,-0.04],[1981,-0.01],[1984,-0.04],[1987,-0.02],[1990,-0.05],[1993,-0.02],[1996,-0.05],[1999,-0.02],[2002,-0.05],[2005,-0.02],[2008,-0.05],[2011,-0.02],[2014,-0.05],[2017,-0.02],[2019,-0.04]];

var mids = [mid1, mid2, mid3, mid4, mid5];
var his = [hi1, hi2, hi3, hi4, hi5];
var los = [lo1, lo2, lo3, lo4, lo5];

// ---- layout ----
var W = 1288, H = 666;
var left = 56, right = 1241;
var firstTop = 20.7, step = 132.3, ph = 94.5;

var svg = d3.select("body").append("svg")
    .attr("width", W)
    .attr("height", H);

svg.append("rect").attr("width", W).attr("height", H).attr("fill", "#fff");

// outer frame
svg.append("rect")
    .attr("x", 4.5).attr("y", 3.7)
    .attr("width", 1279).attr("height", 680)
    .attr("fill", "none")
    .attr("stroke", "#000")
    .attr("stroke-width", 2.5);

var x = d3.scaleLinear().domain([1449, 2019]).range([left, right]);

panelLabels.forEach(function(lab, i){
    var top = firstTop + i * step;
    var y = d3.scaleLinear().domain(yLimits[i]).range([top + ph, top]);
    var g = svg.append("g").attr("class", "panel");

    //x axis with ticks pointing inward
    g.append("g")
        .attr("class", "axis")
        .attr("transform", "translate(0," + (top + ph) + ")")
        .call(d3.axisBottom(x).tickValues(xTicks).tickSizeInner(-11).tickSizeOuter(0).tickPadding(7).tickFormat(d3.format("d")));

    //y axis
    var ya = g.append("g")
        .attr("class", "axis")
        .attr("transform", "translate(" + left + ",0)")
        .call(d3.axisLeft(y).tickValues(yTicks[i]).tickSizeInner(-11).tickSizeOuter(0).tickPadding(6).tickFormat(function(d){ return String(d); }));

    //zero reference line
    g.append("line")
        .attr("x1", x(1449)).attr("x2", x(2019))
        .attr("y1", y(0)).attr("y2", y(0))
        .attr("stroke", "#888")
        .attr("stroke-width", 1)
        .attr("stroke-dasharray", "1,2");

    var line = d3.line()
        .x(function(d){ return x(d[0]); })
        .y(function(d){ return y(d[1]); });

    g.append("path")
        .attr("d", line(mids[i]))
        .attr("fill", "none")
        .attr("stroke", "#0000ff")
        .attr("stroke-width", 2.3)
        .attr("stroke-linejoin", "round");

    [los[i], his[i]].forEach(function(s){
        g.append("path")
            .attr("d", line(s))
            .attr("fill", "none")
            .attr("stroke", "#ff0000")
            .attr("stroke-width", 2.3)
            .attr("stroke-dasharray", "2,2");
    });

    //event lines and labels
    eventYears.forEach(function(yr, k){
        var ex = x(yr);
        g.append("line")
            .attr("x1", ex).attr("x2", ex)
            .attr("y1", top).attr("y2", top + ph)
            .attr("stroke", "#4d4d4d")
            .attr("stroke-width", 2)
            .attr("stroke-dasharray", "2,2");
        g.append("text")
            .attr("transform", "translate(" + (ex + 11.5) + "," + (top + 4) + ") rotate(-90)")
            .attr("text-anchor", "end")
            .attr("font-size", "8.5px")
            .attr("fill", "#333")
            .text(eventNames[k]);
    });

    //y label placed left of the widest tick label
    var minX = d3.min(ya.selectAll(".tick text").nodes(), function(n){
        return left - 6 - n.getComputedTextLength();
    });
    g.append("text")
        .attr("transform", "translate(" + (minX - 2.5) + "," + (top + ph / 2) + ") rotate(-90)")
        .attr("text-anchor", "middle")
        .attr("font-size", "9.5px")
        .attr("fill", "#333")
        .text(lab);
});
</script>
</body>
</html>
